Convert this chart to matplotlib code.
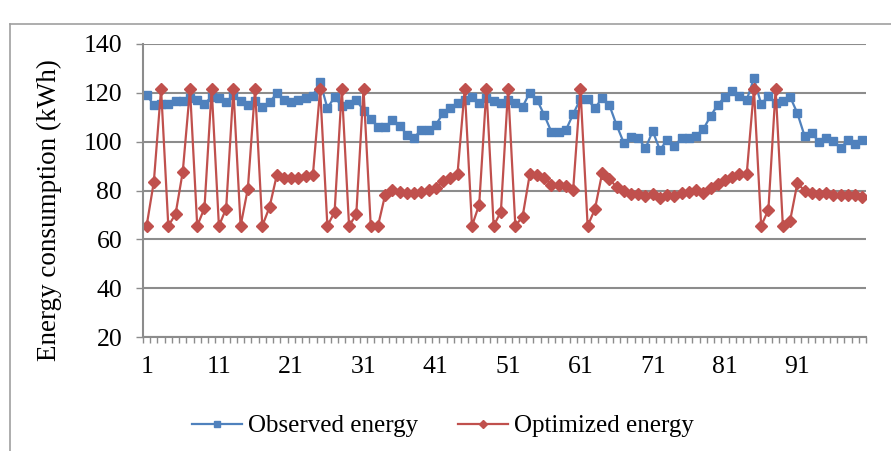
import matplotlib.pyplot as plt
from matplotlib.lines import Line2D
from matplotlib.ticker import MultipleLocator, FixedLocator

# Observation index 1..100
periods = list(range(1, 101))

observed_energy = [
    119.3, 114.9, 115.6, 115.6, 116.8, 116.8, 117.7, 117.0, 115.6, 118.3,
    118.0, 116.3, 119.0, 116.6, 115.1, 116.5, 114.3, 116.1, 119.8, 117.2,
    116.1, 117.2, 117.9, 118.8, 124.5, 113.8, 118.2, 114.6, 115.5, 117.2,
    112.7, 109.2, 106.1, 106.1, 108.8, 106.6, 102.8, 101.7, 104.8, 104.6,
    106.9, 111.6, 113.6, 115.7, 117.1, 118.3, 115.7, 117.7, 116.8, 115.8,
    117.1, 115.8, 114.3, 120.1, 117.1, 110.9, 103.9, 104.1, 104.8, 111.3,
    117.5, 117.3, 113.6, 117.9, 115.0, 106.8, 99.5, 101.8, 101.5, 97.3,
    104.3, 96.6, 100.7, 98.4, 101.4, 101.7, 102.5, 105.1, 110.5, 115.1,
    118.4, 120.9, 118.8, 117.1, 125.9, 115.4, 118.7, 115.8, 116.8, 118.4,
    111.7, 102.4, 103.5, 99.9, 101.4, 100.2, 97.3, 100.7, 98.9, 100.6,
]

optimized_energy = [
    65.5, 83.6, 121.6, 65.5, 70.3, 87.7, 121.6, 65.5, 72.8, 121.6,
    65.5, 72.6, 121.6, 65.5, 80.7, 121.6, 65.5, 73.2, 86.2, 85.3,
    85.1, 85.1, 85.9, 86.4, 121.6, 65.5, 71.2, 121.6, 65.5, 70.2,
    121.6, 65.5, 65.5, 78.3, 80.2, 79.4, 79.0, 79.1, 79.4, 80.2,
    81.0, 83.7, 85.1, 86.8, 121.6, 65.5, 74.2, 121.6, 65.5, 71.3,
    121.6, 65.5, 69.3, 86.7, 86.2, 85.1, 82.4, 82.2, 81.8, 80.4,
    121.6, 65.5, 72.3, 87.0, 84.9, 81.3, 79.8, 78.7, 78.5, 77.8,
    78.5, 77.0, 78.3, 77.9, 79.0, 79.3, 80.2, 78.9, 81.0, 82.6,
    84.2, 85.7, 86.6, 86.7, 121.6, 65.5, 72.1, 121.6, 65.5, 67.6,
    82.9, 80.0, 79.1, 78.6, 78.9, 78.2, 78.1, 78.3, 78.1, 77.4,
]

x_labels = [1, 11, 21, 31, 41, 51, 61, 71, 81, 91]

blue = "#4F81BD"
red = "#C0504D"
grid_gray = "#8C8C8C"

plt.rcParams["font.family"] = ["Liberation Serif", "DejaVu Serif"]

fig = plt.figure(figsize=(8.91, 4.51), dpi=100)
ax = fig.add_axes([143 / 891, 1 - 337 / 451, 723 / 891, 293 / 451])

ax.plot(periods, observed_energy, color=blue, lw=1.6, marker="s",
        markersize=6, label="Observed energy")
ax.plot(periods, optimized_energy, color=red, lw=1.6, marker="D",
        markersize=6, label="Optimized energy")

ax.set_xlim(0.5, 100.5)
ax.set_ylim(20, 140)
ax.yaxis.set_major_locator(MultipleLocator(20))
ax.xaxis.set_major_locator(FixedLocator(x_labels))
ax.xaxis.set_minor_locator(FixedLocator([p + 0.5 for p in range(0, 101)]))
ax.set_xticklabels([str(v) for v in x_labels])

ax.tick_params(axis="x", which="major", length=0, pad=14, labelsize=18.5)
ax.tick_params(axis="x", which="minor", length=4, width=1, color=grid_gray)
ax.tick_params(axis="y", which="major", length=5, width=1, color=grid_gray,
               labelsize=18.5, pad=10)

ax.grid(axis="y", color=grid_gray, lw=1.5)
ax.set_axisbelow(True)
for side in ("top", "right"):
    ax.spines[side].set_visible(False)
for side in ("left", "bottom"):
    ax.spines[side].set_color(grid_gray)
    ax.spines[side].set_linewidth(1.5)

ax.set_ylabel("Energy consumption (kWh)", fontsize=19.5)
ax.yaxis.set_label_coords(-0.112, 0.433)

fig.legend(loc="center", bbox_to_anchor=(0.497, 1 - 426 / 451), ncol=2,
           frameon=False, fontsize=18, handlelength=2.0, columnspacing=1.6,
           handletextpad=0.25, markerscale=0.7)

# outer chart border (cut off on the right and bottom)
fig.add_artist(Line2D([10 / 891, 1], [1 - 24 / 451] * 2, color="#A0A0A0",
                      lw=1.2, transform=fig.transFigure))
fig.add_artist(Line2D([10 / 891] * 2, [0, 1 - 24 / 451], color="#A0A0A0",
                      lw=1.2, transform=fig.transFigure))

fig.savefig("out.png", dpi=100)
